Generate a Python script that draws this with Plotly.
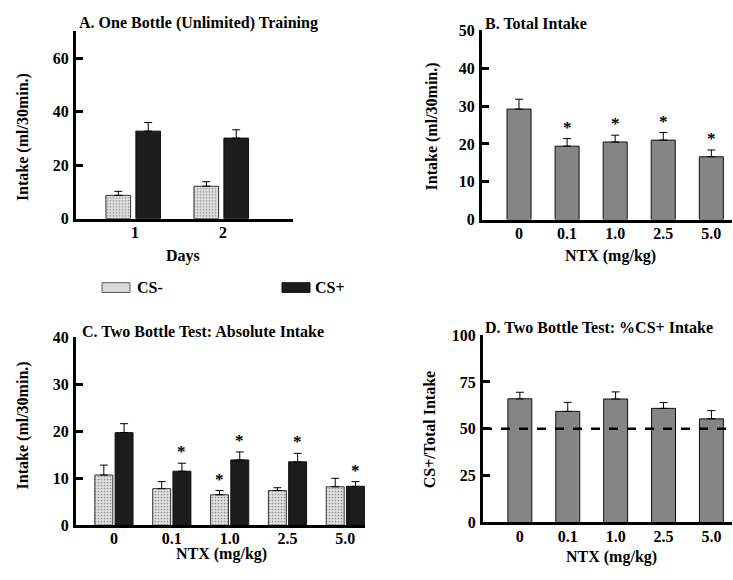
import plotly.graph_objects as go

W, H = 733, 580

# ---------------- data ----------------
days = ["1", "2"]
a_cs_minus = [8.7, 12.1]
a_cs_minus_err = [1.5, 1.7]
a_cs_plus = [32.7, 30.1]
a_cs_plus_err = [3.2, 3.1]

doses = ["0", "0.1", "1.0", "2.5", "5.0"]
b_total = [29.2, 19.4, 20.5, 21.0, 16.6]
b_err = [2.6, 2.0, 1.8, 2.0, 1.8]
b_sig = [False, True, True, True, True]

c_cs_minus = [10.7, 7.8, 6.5, 7.4, 8.2]
c_cs_minus_err = [2.1, 1.5, 0.9, 0.6, 1.8]
c_cs_minus_sig = [False, False, True, False, False]
c_cs_plus = [19.7, 11.5, 13.9, 13.5, 8.3]
c_cs_plus_err = [1.9, 1.7, 1.7, 1.8, 1.0]
c_cs_plus_sig = [False, True, True, True, True]

d_pct = [66.0, 59.3, 65.9, 60.9, 55.3]
d_err = [3.5, 4.8, 3.8, 3.1, 4.4]
d_chance = 50

a_yticks = [0, 20, 40, 60]
b_yticks = [0, 10, 20, 30, 40, 50]
c_yticks = [0, 10, 20, 30, 40]
d_yticks = [0, 25, 50, 75, 100]

FONT = "Liberation Serif"


def px_x(p):
    return p / W


def px_y(p):
    return 1 - p / H


light = dict(color="#dcdcdc", line=dict(color="#333333", width=1),
             pattern=dict(shape=".", bgcolor="#e2e2e2", fgcolor="#8a8a8a",
                          size=3, solidity=0.25, fillmode="replace"))
dark = dict(color="#1c1c1c", line=dict(color="#111111", width=1))
grey = dict(color="#8c8c8c", line=dict(color="#111111", width=1),
            pattern=dict(shape=".", bgcolor="#c6c6c6", fgcolor="#333333",
                         size=2, solidity=0.5, fillmode="replace"))


def err(vals):
    return dict(type="data", array=vals, arrayminus=[0] * len(vals),
                symmetric=False, color="black", thickness=1, width=4)


fig = go.Figure()
annotations = []


def add_bars(xa, ya, cats, vals, errs, marker, offset, width, sig=None):
    xs = list(range(len(cats)))
    fig.add_trace(go.Bar(x=xs, y=vals, xaxis=xa, yaxis=ya, offset=offset,
                         width=width, marker=marker, error_y=err(errs),
                         showlegend=False, hoverinfo="skip"))
    if sig:
        for i, s in enumerate(sig):
            if s:
                annotations.append(dict(
                    x=i + offset + width / 2, y=vals[i] + errs[i],
                    xref=xa, yref=ya, text="*", showarrow=False,
                    yanchor="bottom", yshift=0,
                    font=dict(family=FONT, size=17, color="black")))


# Panel A
add_bars("x", "y", days, a_cs_minus, a_cs_minus_err, light, -0.33, 0.28)
add_bars("x", "y", days, a_cs_plus, a_cs_plus_err, dark, 0.01, 0.28)
# Panel B
add_bars("x2", "y2", doses, b_total, b_err, grey, -0.25, 0.5, b_sig)
# Panel C
add_bars("x3", "y3", doses, c_cs_minus, c_cs_minus_err, light, -0.33, 0.31,
         c_cs_minus_sig)
add_bars("x3", "y3", doses, c_cs_plus, c_cs_plus_err, dark, 0.02, 0.31,
         c_cs_plus_sig)
# Panel D
add_bars("x4", "y4", doses, d_pct, d_err, grey, -0.25, 0.5)

tickfont = dict(family=FONT, size=16, color="black", weight="bold")


def xaxis(dom, rng, cats, anchor, standoff):
    return dict(domain=dom, range=rng, anchor=anchor, tickmode="array",
                tickvals=list(range(len(cats))), ticktext=cats,
                showline=True, linecolor="black", linewidth=3, ticks="",
                showgrid=False, zeroline=False, tickfont=tickfont,
                ticklabelstandoff=standoff)


def yaxis(dom, rng, vals, anchor):
    return dict(domain=dom, range=rng, anchor=anchor, tickmode="array",
                tickvals=vals, showline=True, linecolor="black", linewidth=3,
                ticks="inside", ticklen=7, tickwidth=3, tickcolor="black",
                showgrid=False, zeroline=False, tickfont=tickfont,
                ticklabelstandoff=1)


fig.update_layout(
    width=W, height=H,
    margin=dict(l=0, r=0, t=0, b=0),
    paper_bgcolor="white", plot_bgcolor="white",
    barmode="overlay",
    font=dict(family=FONT, size=16, color="black", weight="bold"),
    xaxis=xaxis([px_x(76), px_x(293)], [-0.67, 1.795], days, "y", -3),
    yaxis=yaxis([px_y(217), px_y(24)], [0, 70], a_yticks, "x"),
    xaxis2=xaxis([px_x(482), px_x(732)], [-0.77, 4.43], doses, "y2", -3),
    yaxis2=yaxis([px_y(218), px_y(23)], [0, 50], b_yticks, "x2"),
    xaxis3=xaxis([px_x(76), px_x(365)], [-0.656, 4.34], doses, "y3", -4),
    yaxis3=yaxis([px_y(533), px_y(339)], [0, 40], c_yticks, "x3"),
    xaxis4=xaxis([px_x(483), px_x(732)], [-0.77, 4.43], doses, "y4", -3),
    yaxis4=yaxis([px_y(530), px_y(337)], [0, 100], d_yticks, "x4"),
)

# Dashed chance line in panel D
fig.add_shape(type="line", xref="x4 domain", yref="y4", x0=0, x1=1,
              y0=d_chance, y1=d_chance,
              line=dict(color="black", width=2.5, dash="dash"))


def text(x, y, s, xanchor="center", angle=0, size=16):
    annotations.append(dict(x=px_x(x), y=px_y(y), xref="paper", yref="paper",
                            text=s, showarrow=False, xanchor=xanchor,
                            yanchor="middle", textangle=angle,
                            font=dict(family=FONT, size=size, color="black",
                                      weight="bold")))


# Panel titles
text(77, 15, "A. One Bottle (Unlimited) Training", "left")
text(483, 16, "B. Total Intake", "left")
text(80, 333, "C. Two Bottle Test: Absolute Intake", "left")
text(483, 329, "D. Two Bottle Test: %CS+ Intake", "left")

# Axis titles
text(23, 133, "Intake (ml/30min.)", angle=-90)
text(432, 122, "Intake (ml/30min.)", angle=-90)
text(23, 430, "Intake (ml/30min.)", angle=-90)
text(429, 434, "CS+/Total Intake", angle=-90)
text(183, 255, "Days")
text(610, 255, "NTX (mg/kg)")
text(221, 562, "NTX (mg/kg)")
text(611, 566, "NTX (mg/kg)")

# Legend
fig.add_shape(type="rect", xref="paper", yref="paper",
              x0=px_x(102), x1=px_x(130), y0=px_y(293), y1=px_y(283),
              fillcolor="#d8d8d8", line=dict(color="#555555", width=1))
fig.add_shape(type="rect", xref="paper", yref="paper",
              x0=px_x(282), x1=px_x(310), y0=px_y(293), y1=px_y(283),
              fillcolor="#1c1c1c", line=dict(color="#111111", width=1))
text(135, 288, "CS-", "left")
text(313, 288, "CS+", "left")

fig.update_layout(annotations=annotations)

# The page's default body margin would shift the 733x580 figure; remove it.
fig.write_html(
    "out.html",
    config={"displayModeBar": False},
    post_script="document.body.style.margin='0';"
                "document.body.style.overflow='hidden';",
)
